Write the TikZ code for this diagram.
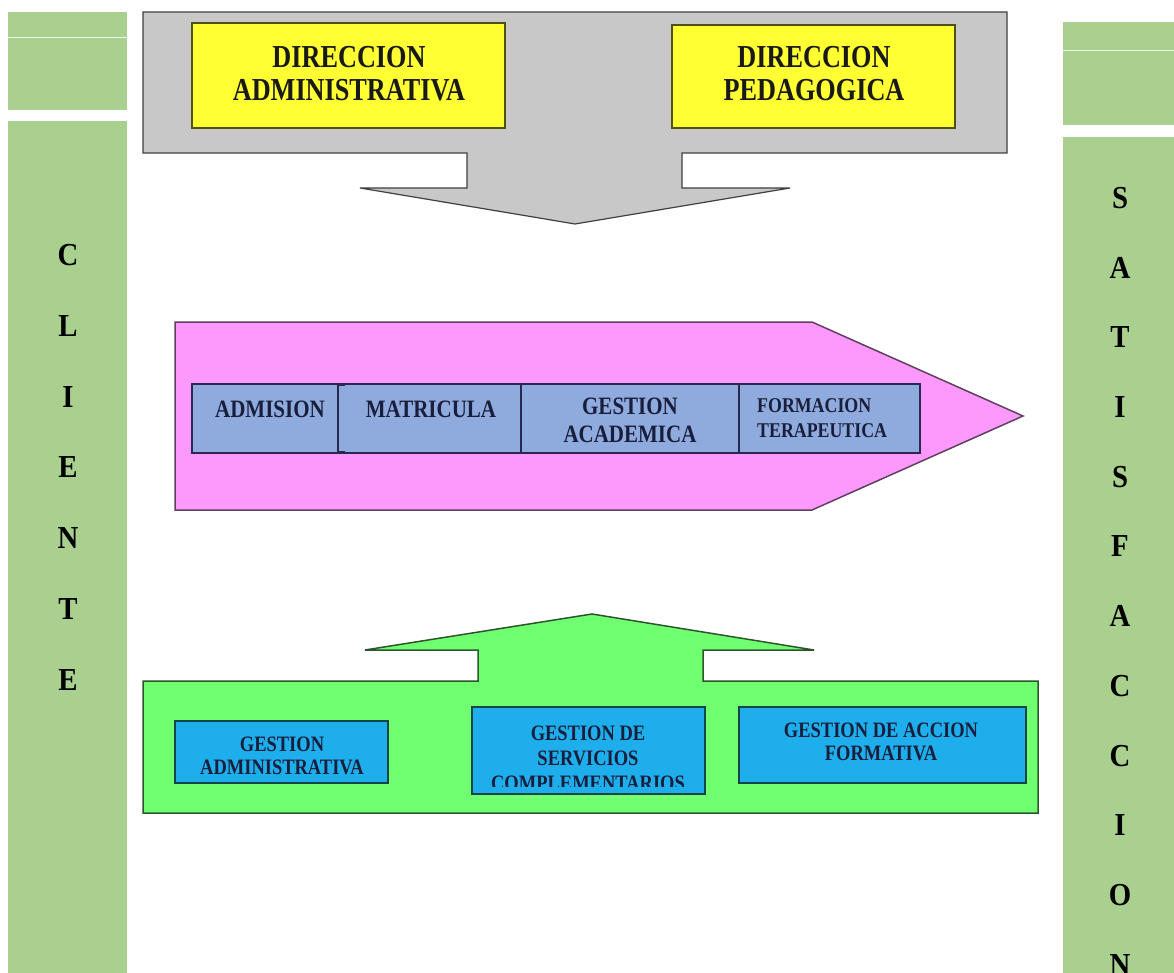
\documentclass[tikz,border=0pt]{standalone}
\usepackage{fontspec}
\setmainfont{Liberation Serif}
\usepackage{graphicx}

\definecolor{barGreen}{RGB}{169,208,142}
\definecolor{dirGray}{RGB}{200,200,200}
\definecolor{dirGrayEdge}{RGB}{64,64,64}
\definecolor{dirYellow}{RGB}{255,255,51}
\definecolor{dirYellowEdge}{RGB}{80,80,20}
\definecolor{procPink}{RGB}{253,153,253}
\definecolor{procPinkEdge}{RGB}{96,64,96}
\definecolor{stripBlue}{RGB}{143,170,220}
\definecolor{stripEdge}{RGB}{40,40,80}
\definecolor{supGreen}{RGB}{112,255,112}
\definecolor{supGreenEdge}{RGB}{45,85,45}
\definecolor{supBlue}{RGB}{30,174,235}
\definecolor{supBlueEdge}{RGB}{20,70,70}
\definecolor{inkNavy}{RGB}{25,30,60}

% horizontally condensed, centred / left-aligned text blocks
\newcommand{\sqc}[2]{\scalebox{#1}[1]{\begin{tabular}{@{}c@{}}#2\end{tabular}}}
\newcommand{\sql}[2]{\scalebox{#1}[1]{\begin{tabular}{@{}l@{}}#2\end{tabular}}}

\begin{document}
\begin{tikzpicture}[x=1pt,y=-1pt,
  sidebar/.style={fill=barGreen, draw=none},
  sideletter/.style={font=\fontsize{32}{34}\selectfont\bfseries, text=black, inner sep=0},
  grayshape/.style={fill=dirGray, draw=dirGrayEdge, line width=1.2pt},
  yellowbox/.style={fill=dirYellow, draw=dirYellowEdge, line width=1.5pt},
  yellowtext/.style={font=\fontsize{32}{33}\selectfont\bfseries, text=black!90, inner sep=0},
  pinkshape/.style={fill=procPink, draw=procPinkEdge, line width=1.5pt},
  stripbox/.style={fill=stripBlue, draw=stripEdge, line width=1.5pt},
  stripline/.style={draw=stripEdge, line width=1.5pt},
  striptext/.style={font=\fontsize{25}{28}\selectfont\bfseries, text=inkNavy, inner sep=0},
  striptextsmall/.style={font=\fontsize{21}{25}\selectfont\bfseries, text=inkNavy, inner sep=0},
  greenshape/.style={fill=supGreen, draw=supGreenEdge, line width=1.5pt},
  bluebox/.style={fill=supBlue, draw=supBlueEdge, line width=2pt},
  bluetext/.style={font=\fontsize{22}{23}\selectfont\bfseries, text=inkNavy, inner sep=0},
  bluetextwide/.style={font=\fontsize{22}{25}\selectfont\bfseries, text=inkNavy, inner sep=0}
]
\useasboundingbox (0,0) rectangle (1174,973);
\fill[white] (0,0) rectangle (1174,973);

% ---- side bars ----
\path[sidebar] (8,12) rectangle (127,110);
\draw[white!80!barGreen, line width=0.8pt] (8,37) -- (127,37);
\path[sidebar] (8,121) rectangle (127,973);
\path[sidebar] (1063,22) rectangle (1174,125);
\draw[white!80!barGreen, line width=0.8pt] (1063,50) -- (1174,50);
\path[sidebar] (1063,137) rectangle (1174,973);

\foreach \ch [count=\k from 0] in {C,L,I,E,N,T,E}
  \node[sideletter] (cli\k) at (68,{255+70.8*\k}) {\scalebox{0.9}[1]{\ch}};
\foreach \ch [count=\k from 0] in {S,A,T,I,S,F,A,C,C,I,O,N}
  \node[sideletter] (sat\k) at (1120,{198+69.7*\k}) {\scalebox{0.9}[1]{\ch}};

% ---- management block with downward arrow ----
\draw[grayshape] (143,12) -- (1007,12) -- (1007,153) -- (682,153) -- (682,188)
  -- (790,188) -- (575,224) -- (360,188) -- (467,188) -- (467,153) -- (143,153) -- cycle;
\draw[yellowbox] (192,23) rectangle (505,128);
\draw[yellowbox] (672,25) rectangle (955,128);
\node[yellowtext] (diradm) at (349,77) {\sqc{0.82}{DIRECCION\\ADMINISTRATIVA}};
\node[yellowtext] (dirped) at (814,77) {\sqc{0.82}{DIRECCION\\PEDAGOGICA}};

% ---- key process arrow ----
\draw[pinkshape] (175,322) -- (812,322) -- (1023,416) -- (812,510) -- (175,510) -- cycle;
\draw[stripbox] (192,384) rectangle (920,453);
\draw[stripline] (345,385) -- (338,385) -- (338,452) -- (345,452);
\draw[stripline] (521,384) -- (521,453);
\draw[stripline] (739,384) -- (739,453);
\node[striptext, anchor=base] (admision) at (270,417) {\scalebox{0.84}[1]{ADMISION}};
\node[striptext, anchor=base] (matricula) at (431,417) {\scalebox{0.84}[1]{MATRICULA}};
\node[striptext] (gestacad) at (630,423) {\sqc{0.84}{GESTION\\ACADEMICA}};
\node[striptextsmall, anchor=west] (formter) at (757,420) {\sql{0.85}{FORMACION\\TERAPEUTICA}};

% ---- support block with upward arrow ----
\draw[greenshape] (143,813) -- (1038,813) -- (1038,681) -- (703,681) -- (703,650)
  -- (814,650) -- (592,614) -- (365,650) -- (478,650) -- (478,681) -- (143,681) -- cycle;
\draw[bluebox] (175,721) rectangle (388,783);
\draw[bluebox] (472,707) rectangle (705,794);
\draw[bluebox] (739,707) rectangle (1026,783);
\node[bluetext] (gestadm) at (282,758) {\sqc{0.84}{GESTION\\ADMINISTRATIVA}};
\begin{scope}
  \clip (474,709) rectangle (703,786);
  \node[bluetextwide] (gestserv) at (588,760) {\sqc{0.84}{GESTION DE\\SERVICIOS\\COMPLEMENTARIOS}};
\end{scope}
\node[bluetext] (gestform) at (881,744) {\sqc{0.84}{GESTION DE ACCION\\FORMATIVA}};
\end{tikzpicture}
\end{document}
